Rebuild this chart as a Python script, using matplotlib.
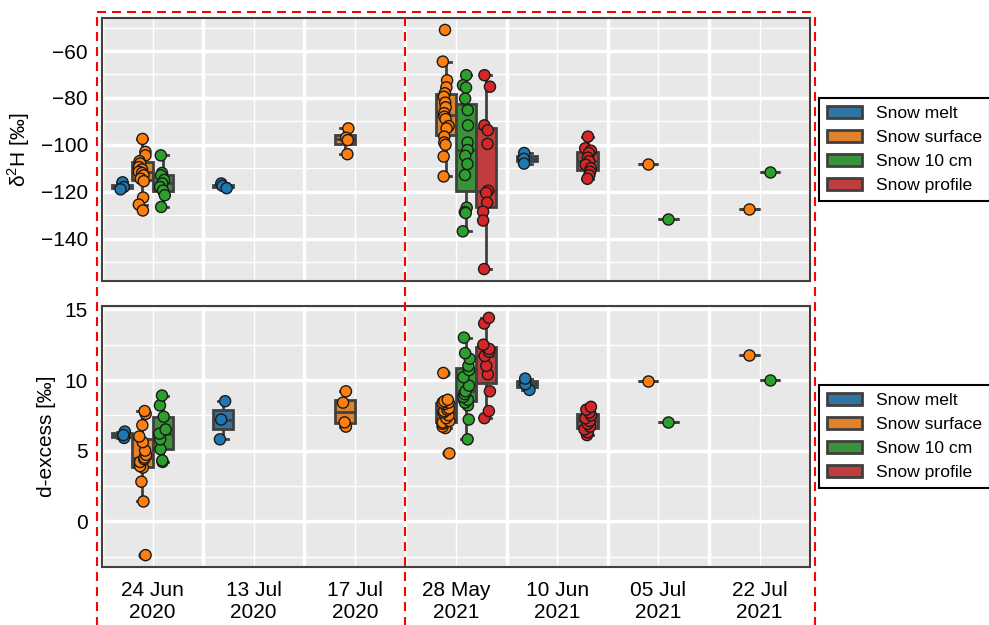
import numpy as np
import pandas as pd
import matplotlib
matplotlib.use('Agg')
import matplotlib.pyplot as plt
import matplotlib.transforms as mtransforms
from matplotlib.lines import Line2D
from matplotlib.ticker import MultipleLocator, FixedLocator
import seaborn as sns

# sampling dates (first three in 2020, the rest in 2021)
dates = ['24 Jun\n2020', '13 Jul\n2020', '17 Jul\n2020',
         '28 May\n2021', '10 Jun\n2021', '05 Jul\n2021', '22 Jul\n2021']
n_2020 = 3
types = ['Snow melt', 'Snow surface', 'Snow 10 cm', 'Snow profile']
colors = ['#1f77b4', '#ff7f0e', '#2ca02c', '#d62728']

# delta 2H [permil], one list per date for each sample type
d2h_melt = [[-116.0, -118.0, -119.0], [-116.5, -117.5, -118.5], [], [],
            [-103.5, -106.0, -108.0], [], []]
d2h_surface = [[-97.5, -103.0, -104.5, -107.0, -108.0, -109.5, -110.5, -111.5,
                -112.0, -113.0, -114.5, -115.5, -122.5, -125.5, -128.0],
               [],
               [-93.0, -97.0, -98.0, -104.0],
               [-51.0, -64.5, -72.5, -75.5, -78.0, -79.5, -82.0, -84.0, -86.5,
                -88.0, -89.0, -92.0, -93.0, -96.5, -99.0, -100.0, -105.0, -113.5],
               [], [-108.0], [-127.5]]
d2h_10cm = [[-104.5, -112.0, -113.0, -115.0, -116.5, -118.0, -119.5, -121.5, -126.5],
            [], [],
            [-70.3, -74.6, -75.6, -80.3, -85.2, -91.7, -99.0, -102.2, -104.7,
             -108.2, -112.9, -126.8, -128.7, -129.1, -136.9],
            [], [-131.5], [-111.5]]
d2h_profile = [[], [], [],
               [-70.3, -75.2, -91.7, -93.8, -99.6, -119.6, -120.5, -124.7,
                -128.5, -132.3, -153.0],
               [-96.5, -101.5, -102.5, -103.5, -105.5, -107.0, -108.5, -110.0,
                -111.5, -113.0, -114.5],
               [], []]

# d-excess [permil]
dex_melt = [[6.35, 5.9, 6.1], [5.8, 7.2, 8.5], [], [], [9.3, 9.7, 10.1], [], []]
dex_surface = [[-2.4, 1.4, 2.8, 3.8, 3.9, 4.2, 4.4, 4.5, 4.7, 5.0, 5.6, 6.0, 6.8, 7.6, 7.8],
               [],
               [6.7, 7.0, 8.4, 9.2],
               [4.8, 6.6, 6.7, 6.9, 7.0, 7.1, 7.3, 7.5, 7.7, 7.8, 7.9, 8.0, 8.3,
                8.4, 8.4, 8.5, 8.6, 10.5],
               [], [9.9], [11.75]]
dex_10cm = [[4.2, 4.3, 5.1, 5.8, 6.2, 6.5, 7.4, 8.2, 8.9],
            [], [],
            [5.8, 7.2, 8.2, 8.4, 8.6, 8.8, 9.0, 9.2, 9.6, 10.2, 10.7, 11.0, 11.5, 11.9, 13.0],
            [], [7.05], [10.0]]
dex_profile = [[], [], [],
               [7.3, 7.8, 9.2, 10.4, 11.0, 11.7, 12.0, 12.2, 12.5, 14.0, 14.4],
               [6.1, 6.3, 6.5, 6.7, 6.9, 7.1, 7.3, 7.5, 7.7, 7.9, 8.1],
               [], []]


def to_long(series_by_type, col):
    rows = []
    for t, series in zip(types, series_by_type):
        for d, vals in zip(dates, series):
            for v in vals:
                rows.append({'date': d, 'type': t, col: v})
    return pd.DataFrame(rows)


plt.rcParams['font.family'] = ['Liberation Sans', 'DejaVu Sans']
plt.rcParams['mathtext.fontset'] = 'custom'
plt.rcParams['mathtext.rm'] = 'Liberation Sans'
np.random.seed(3)  # only for the strip jitter


def draw_panel(ax, df, col, ylabel, major, minor):
    sns.boxplot(data=df, x='date', y=col, hue='type', order=dates, hue_order=types,
                palette=colors, saturation=0.75, linewidth=2, linecolor='0.25',
                fliersize=5, ax=ax)
    sns.stripplot(data=df, x='date', y=col, hue='type', order=dates, hue_order=types,
                  palette=colors, dodge=True, size=8, edgecolor='0.1', linewidth=1,
                  jitter=0.15, legend=False, ax=ax)
    ax.set_facecolor('#e8e8e8')
    ax.set_axisbelow(True)
    ax.set_xlim(-0.5, len(dates) - 0.5)
    ax.yaxis.set_major_locator(MultipleLocator(major))
    ax.yaxis.set_minor_locator(MultipleLocator(minor))
    ax.xaxis.set_minor_locator(FixedLocator(np.arange(len(dates) + 1) - 0.5))
    ax.grid(which='major', axis='y', color='white', lw=2.5)
    ax.grid(which='minor', axis='y', color='white', lw=1)
    ax.grid(which='major', axis='x', color='white', lw=1)
    ax.grid(which='minor', axis='x', color='white', lw=2.5)
    ax.tick_params(which='both', length=0, labelsize=15, pad=10)
    for s in ax.spines.values():
        s.set_color('0.25')
        s.set_linewidth(1.5)
    ax.set_xlabel('')
    ax.set_ylabel(ylabel, fontsize=15, labelpad=6)
    handles, labels = ax.get_legend_handles_labels()
    leg = ax.legend(handles, labels, loc='center left', bbox_to_anchor=(1.0, 0.5),
                    fancybox=False, edgecolor='black', framealpha=1, fontsize=12.6,
                    labelspacing=0.5, borderpad=0.45)
    leg.get_frame().set_linewidth(1.5)


fig = plt.figure(figsize=(9.89, 6.25), dpi=100)
ax1 = fig.add_axes([0.1031, 0.5504, 0.716, 0.4208])
ax2 = fig.add_axes([0.1031, 0.0928, 0.716, 0.4176])

draw_panel(ax1, to_long([d2h_melt, d2h_surface, d2h_10cm, d2h_profile], 'd2h'),
           'd2h', r'δ$^{2}$H [‰]', 20, 10)
draw_panel(ax2, to_long([dex_melt, dex_surface, dex_10cm, dex_profile], 'dex'),
           'dex', 'd-excess [‰]', 5, 2.5)
ax1.tick_params(axis='x', labelbottom=False)

# dashed frames around the 2020 and 2021 campaigns
trans = mtransforms.blended_transform_factory(ax2.transData, fig.transFigure)
edges = [-0.55, n_2020 - 0.5, len(dates) - 0.45]
y_top, y_bot = 0.9816, -0.02
dash = dict(color='red', lw=1.5, ls=(0, (4.3, 2.9)), transform=trans, clip_on=False)
fig.add_artist(Line2D([edges[0], edges[-1]], [y_top, y_top], **dash))
for x in edges:
    fig.add_artist(Line2D([x, x], [y_bot, y_top], **dash))

fig.savefig('out.png', dpi=100)
